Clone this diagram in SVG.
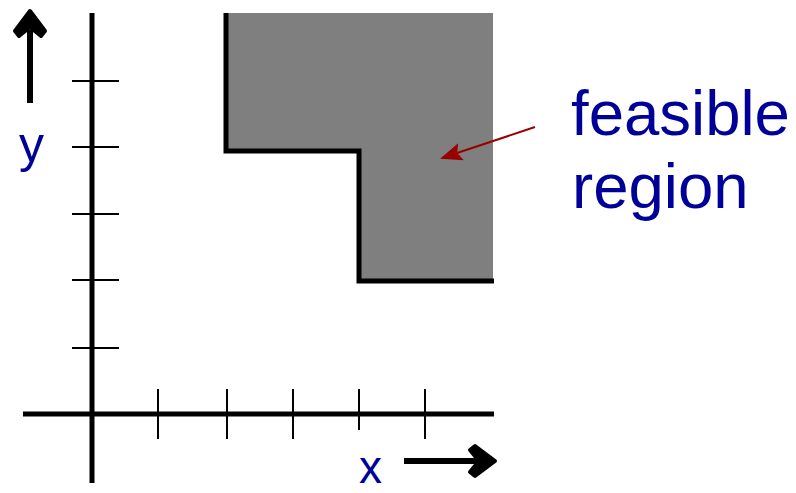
<svg xmlns="http://www.w3.org/2000/svg" width="796" height="493" viewBox="0 0 796 493">
<style>
.axis{stroke:#000;stroke-width:5;fill:none}
.tick{stroke:#000;stroke-width:2;fill:none}
.border{stroke:#000;stroke-width:5;fill:none;stroke-linejoin:miter}
.lbl{font-family:"Liberation Sans",Arial,sans-serif;fill:#000099}
</style>
<defs>
<marker id="redHead" markerWidth="11" markerHeight="9" refX="10" refY="4.5" orient="auto" markerUnits="strokeWidth">
<path d="M0,0 L11,4.5 L0,9 L2,4.5 Z" fill="#990000"/>
</marker>
</defs>
<rect width="796" height="493" fill="#fff"/>
<g id="region">
<polygon points="226,13 493,13 493,281 359,281 359,151 226,151" fill="#7f7f7f"/>
<polyline class="border" points="226,13 226,151 359,151 359,281 494,281"/>
</g>
<g id="axes">
<line class="axis" x1="92" y1="13" x2="92" y2="483"/>
<line class="axis" x1="23" y1="414" x2="494" y2="414"/>
<g id="yticks">
<line class="tick" x1="72" y1="81" x2="119" y2="81"/>
<line class="tick" x1="72" y1="147" x2="119" y2="147"/>
<line class="tick" x1="72" y1="214" x2="119" y2="214"/>
<line class="tick" x1="72" y1="280" x2="119" y2="280"/>
<line class="tick" x1="72" y1="348" x2="119" y2="348"/>
</g>
<g id="xticks">
<line class="tick" x1="158" y1="389" x2="158" y2="439"/>
<line class="tick" x1="227" y1="389" x2="227" y2="439"/>
<line class="tick" x1="293" y1="389" x2="293" y2="439"/>
<line class="tick" x1="359" y1="389" x2="359" y2="430"/>
<line class="tick" x1="425" y1="389" x2="425" y2="439"/>
</g>
</g>
<g id="y-arrow">
<line x1="30" y1="103" x2="30" y2="30" stroke="#000" stroke-width="6"/>
<path d="M30,11 L45,31 L41,36 L30,27 L19,36 L15,31 Z" fill="#000" stroke="#000" stroke-width="4" stroke-linejoin="round"/>
</g>
<g id="x-arrow">
<line x1="404" y1="461" x2="478" y2="461" stroke="#000" stroke-width="6"/>
<path d="M495,461 L475,476 L470,472 L479,461 L470,450 L475,446 Z" fill="#000" stroke="#000" stroke-width="4" stroke-linejoin="round"/>
</g>
<g id="labels">
<text class="lbl" x="19" y="162" font-size="50">y</text>
<text class="lbl" x="359" y="483" font-size="46">x</text>
<text class="lbl" x="571" y="135" font-size="63.5">feasible</text>
<text class="lbl" x="572" y="208" font-size="63.5">region</text>
</g>
<g id="connectors">
<line x1="535" y1="127" x2="442" y2="158" stroke="#990000" stroke-width="2" marker-end="url(#redHead)"/>
</g>
</svg>
